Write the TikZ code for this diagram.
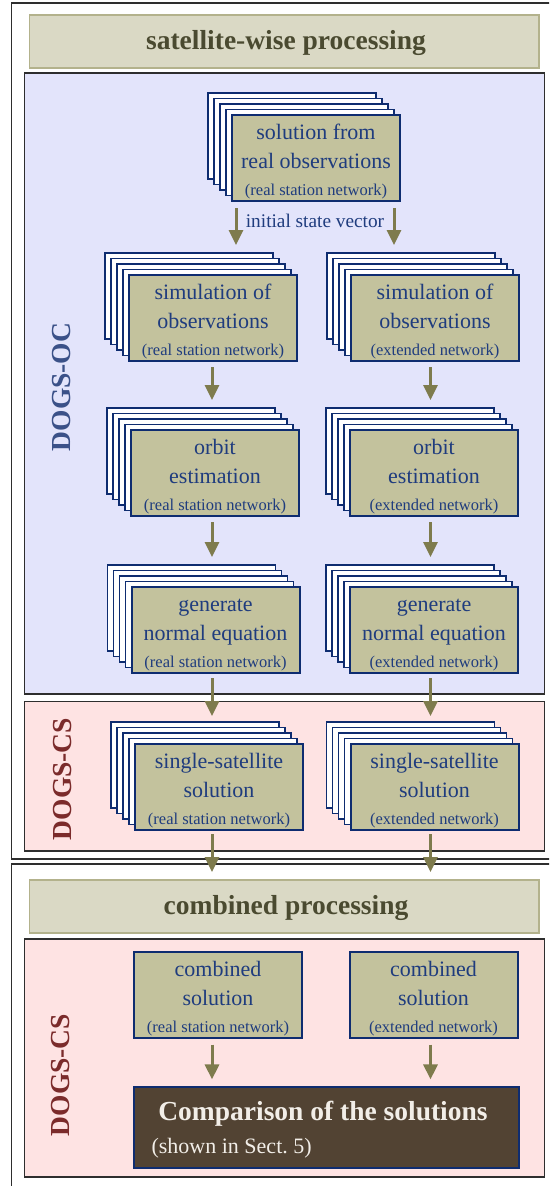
\documentclass[tikz,border=0pt]{standalone}
\usepackage{fontspec}
\setmainfont{Liberation Serif}
\usetikzlibrary{arrows.meta,calc}
\frenchspacing

\definecolor{panelblue}{HTML}{E3E4FB}
\definecolor{panelpink}{HTML}{FEE3E3}
\definecolor{titlefill}{HTML}{DAD9C5}
\definecolor{titleedge}{HTML}{B3B28C}
\definecolor{titletext}{HTML}{4A4A30}
\definecolor{boxfill}{HTML}{C3C29D}
\definecolor{boxedge}{HTML}{0E2C70}
\definecolor{boxtext}{HTML}{1F3C7E}
\definecolor{arrowcol}{HTML}{7E7B4D}
\definecolor{ocblue}{HTML}{3B5188}
\definecolor{csred}{HTML}{7B2B2B}
\definecolor{resultfill}{HTML}{524333}
\definecolor{resulttext}{HTML}{F2EEE8}
\definecolor{framecol}{HTML}{2E2E2E}

% smaller third line of a processing box
\newcommand\nettxt[1]{{\fontsize{16.5}{18}\selectfont #1}}
% tall strut on the first line, keeps the text block low in the box
\newcommand\toprow{\rule{0pt}{23pt}}

% a stack of sheets with the labelled front sheet
% #1 name, #2 x, #3 y, #4 text
\newcommand\paperstack[4]{%
  \foreach \k in {4,3,2,1}{%
    \draw[sheet] ({#2-84-6*\k},{#3-43-5.5*\k}) rectangle ++(168,86);}
  \node[stepbox] (#1) at (#2,#3) {\toprow#4};}

\begin{document}
\begin{tikzpicture}[x=1pt,y=-1pt,
  frame/.style={draw=framecol,line width=1.4pt},
  panel/.style={draw=framecol,line width=1.3pt},
  titlebar/.style={fill=titlefill,draw=titleedge,line width=1.5pt},
  titletxt/.style={text=titletext,font=\fontsize{27.5}{30}\selectfont\bfseries},
  sidetxt/.style={rotate=90,font=\fontsize{27.5}{30}\selectfont\bfseries},
  sheet/.style={fill=white,draw=boxedge,line width=1.6pt},
  stepbox/.style={fill=boxfill,draw=boxedge,line width=2pt,text=boxtext,
    minimum width=168pt,minimum height=86pt,inner sep=0pt,align=center,
    font=\fontsize{22}{29}\selectfont},
  arr/.style={draw=arrowcol,line width=3pt,-{Triangle[length=15pt,width=14pt]}},
]
\useasboundingbox (0,0) rectangle (549,1186);
\clip (0,0) rectangle (549,1186);

% outer frames
\draw[frame] (11.5,3) rectangle (620,859);
\draw[frame] (11.5,864) rectangle (620,1260);

% satellite-wise part
\draw[titlebar] (29.5,15) rectangle (539,68);
\node[titletxt] (t1) at (286,43) {satellite-wise processing};
\draw[panel,fill=panelblue] (24.5,73) rectangle (544.5,694);
\draw[panel,fill=panelpink] (24.5,701.5) rectangle (544.5,851);
\node[sidetxt,text=ocblue] (oc) at (62,387) {DOGS-OC};
\node[sidetxt,text=csred] (cs1) at (63,779) {DOGS-CS};

% combined part
\draw[titlebar] (29.5,880) rectangle (539,933);
\node[titletxt] (t2) at (286,908) {combined processing};
\draw[panel,fill=panelpink] (24.5,939) rectangle (544.5,1177);
\node[sidetxt,text=csred] (cs2) at (61,1075) {DOGS-CS};

% processing stacks
\paperstack{r1}{316}{158}{solution from\\real observations\\[-2pt]\nettxt{(real station network)}}
\paperstack{l2}{213}{318}{simulation of\\observations\\[-2pt]\nettxt{(real station network)}}
\paperstack{r2}{435}{318}{simulation of\\observations\\[-2pt]\nettxt{(extended network)}}
\paperstack{l3}{215}{473}{orbit\\estimation\\[-2pt]\nettxt{(real station network)}}
\paperstack{r3}{434}{473}{orbit\\estimation\\[-2pt]\nettxt{(extended network)}}
\paperstack{l4}{215.5}{630}{generate\\normal equation\\[-2pt]\nettxt{(real station network)}}
\paperstack{r4}{434}{630}{generate\\normal equation\\[-2pt]\nettxt{(extended network)}}
\paperstack{l5}{219}{787}{single-satellite\\solution\\[-2pt]\nettxt{(real station network)}}
\paperstack{r5}{434.5}{787}{single-satellite\\solution\\[-2pt]\nettxt{(extended network)}}

% combined solutions
\node[stepbox] (lc) at (218,994.5) {\toprow combined\\solution\\[-2pt]\nettxt{(real station network)}};
\node[stepbox] (rc) at (433.5,994.5) {\toprow combined\\solution\\[-2pt]\nettxt{(extended network)}};
\node[fill=resultfill,draw=boxedge,line width=1.2pt,minimum width=385pt,
  minimum height=81pt,inner sep=0pt] (cmp) at (326.5,1127.5) {};
\node[anchor=base,text=resulttext,font=\fontsize{27.5}{30}\selectfont\bfseries]
  at ($(cmp.north)+(-3.5,34)$) {Comparison of the solutions};
\node[anchor=base west,text=resulttext,inner sep=0pt,font=\fontsize{22}{26}\selectfont]
  at ($(cmp.north west)+(18,67)$) {(shown in Sect. 5)};

% connectors
\coordinate (colL) at (212,0);
\coordinate (colR) at (430.5,0);
\draw[arr] ($(r1.south west)+(5,6)$) -- ($(r1.south west |- l2.north)+(5,-29)$);
\draw[arr] ($(r1.south east)+(-7,6)$) -- ($(r1.south east |- r2.north)+(-7,-29)$);
\node[anchor=base,text=boxtext,font=\fontsize{19.3}{22}\selectfont] (isv)
  at (315,227) {initial state vector};

\draw[arr] ($(l2.south -| colL)+(0,5)$) -- ($(l3.north -| colL)+(0,-29)$);
\draw[arr] ($(r2.south -| colR)+(0,5)$) -- ($(r3.north -| colR)+(0,-29)$);
\draw[arr] ($(l3.south -| colL)+(0,5)$) -- ($(l4.north -| colL)+(0,-29)$);
\draw[arr] ($(r3.south -| colR)+(0,5)$) -- ($(r4.north -| colR)+(0,-29)$);
\draw[arr] ($(l4.south -| colL)+(0,4)$) -- ($(l5.north -| colL)+(0,-27)$);
\draw[arr] ($(r4.south -| colR)+(0,4)$) -- ($(r5.north -| colR)+(0,-27)$);
\coordinate (outL) at ($(l5.south -| colL)+(0,41)$);
\coordinate (outR) at ($(r5.south -| colR)+(0,41)$);
\draw[arr] ($(l5.south -| colL)+(0,3)$) -- (outL);
\draw[arr] ($(r5.south -| colR)+(0,3)$) -- (outR);
\draw[arr] ($(lc.south -| colL)+(0,6)$) -- ($(cmp.north -| colL)+(0,-7)$);
\draw[arr] ($(rc.south -| colR)+(0,6)$) -- ($(cmp.north -| colR)+(0,-7)$);
\end{tikzpicture}
\end{document}
